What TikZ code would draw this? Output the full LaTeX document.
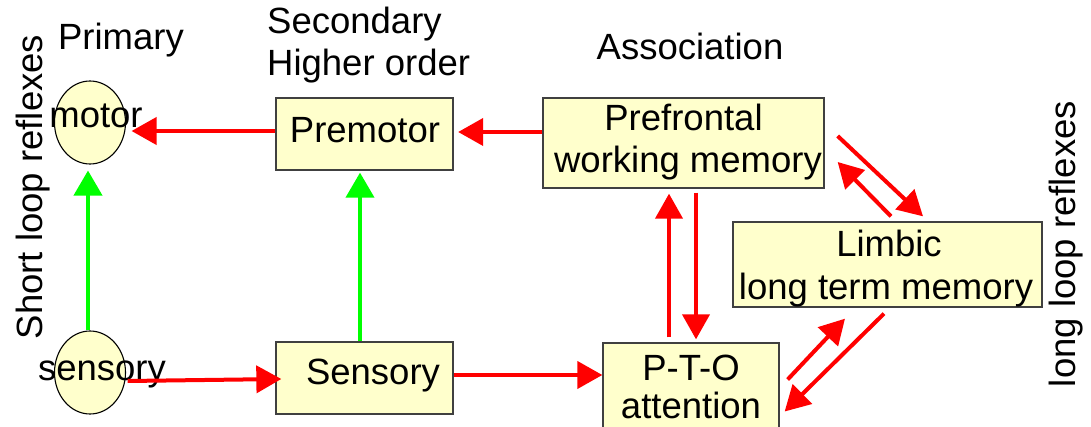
\documentclass[tikz,border=0pt]{standalone}
\usepackage{fontspec}
\setmainfont{Liberation Sans}
\usetikzlibrary{shapes.geometric,arrows.meta,calc}
\definecolor{boxfill}{HTML}{FFFFCC}
\definecolor{boxline}{HTML}{404040}
\definecolor{redc}{HTML}{FF0000}
\definecolor{greenc}{HTML}{00FF00}
\begin{document}
\begin{tikzpicture}[x=1pt,y=-1pt,
  every node/.style={font=\fontsize{36.5}{42}\selectfont, inner sep=0pt},
  boxnode/.style={draw=boxline, line width=1.3pt, fill=boxfill, align=center},
  ellnode/.style={ellipse, draw=black, line width=1.1pt, fill=boxfill, minimum width=71pt, minimum height=83pt},
  redarrow/.style={draw=redc, line width=4pt, -{Triangle[length=25pt,width=27pt]}},
  greenarrow/.style={draw=greenc, line width=4pt, -{Triangle[length=25pt,width=28pt]}},
  lbl/.style={anchor=base}
]
\clip (0,0) rectangle (1091,427);
\fill[white] (0,0) rectangle (1091,427);

% ellipses
\node[ellnode] (motor) at (90,122.5) {};
\node[ellnode] (sensE) at (90,372.5) {};
\node[lbl] (motorT) at (96,128) {motor};
\node[lbl] (sensT) at (102,380) {sensory};

% boxes
\node[boxnode, minimum width=177pt, minimum height=72pt] (premotor) at (364.5,134) {};
\node[lbl] (premotorT) at (365,143) {Premotor};
\node[boxnode, minimum width=177pt, minimum height=72pt] (sensB) at (364.5,378) {};
\node[lbl] (sensBT) at (373,384) {Sensory};
\node[boxnode, minimum width=281pt, minimum height=90pt] (pref) at (683.5,143) {};
\node[lbl] (prefT1) at (683.5,131) {Prefrontal};
\node[lbl] (prefT2) at (688,173) {working memory};
\node[boxnode, minimum width=176pt, minimum height=100pt] (pto) at (691,393) {};
\node[lbl] (ptoT1) at (691,380) {P-T-O};
\node[lbl] (ptoT2) at (691,418) {attention};
\node[boxnode, minimum width=309pt, minimum height=85pt] (limbic) at (887.5,264.5) {};
\node[lbl] (limT1) at (889,257) {Limbic};
\node[lbl] (limT2) at (886,299) {long term memory};

% headings
\node[lbl] (primary) at (121,50) {Primary};
\node[lbl, anchor=base west] (secondary) at (267,34) {Secondary};
\node[lbl, anchor=base west] (higher) at (267,76) {Higher order};
\node[lbl] (assoc) at (690,60) {Association};
\node[anchor=base, rotate=90] (shortloop) at (42,187) {Short loop reflexes};
\node[anchor=base, rotate=90] (longloop) at (1075,244) {long loop reflexes};

% connectors
\draw[redarrow] ($(premotor.west)+(0,-3)$) -- ($(motor.east)+(5.5,8.5)$);
\draw[redarrow] ($(pref.west)+(0,-11)$) -- ($(premotor.east)+(4.5,-2)$);
\draw[greenarrow] ($(sensE.north)+(-2,0)$) -- ($(motor.south)+(-2,6)$);
\draw[greenarrow] ($(sensB.north)+(-4.5,0)$) -- ($(premotor.south)+(-4.5,2)$);
\draw[redarrow] ($(sensE.east)+(1.5,8.5)$) -- ($(sensB.west)+(6,1)$);
\draw[redarrow] ($(sensB.east)+(0,-3)$) -- ($(pto.west)+(0,-18)$);
\draw[redarrow] ($(pto.north)+(-22,-5)$) -- ($(pref.south)+(-14.5,5)$);
\draw[redarrow] ($(pref.south)+(12.5,4)$) -- ($(pto.north)+(5,-3)$);
\draw[redarrow] ($(limbic.north)+(3.5,-5)$) -- ($(pref.east)+(13,19)$);
\draw[redarrow] ($(pref.east)+(13,-7)$) -- ($(limbic.north)+(35.5,-5)$);
\draw[redarrow] ($(pto.east)+(8,-13.5)$) -- ($(limbic.south)+(-42.5,11)$);
\draw[redarrow] ($(limbic.south)+(-3.5,6)$) -- ($(pto.east)+(5,18.5)$);
\end{tikzpicture}
\end{document}
